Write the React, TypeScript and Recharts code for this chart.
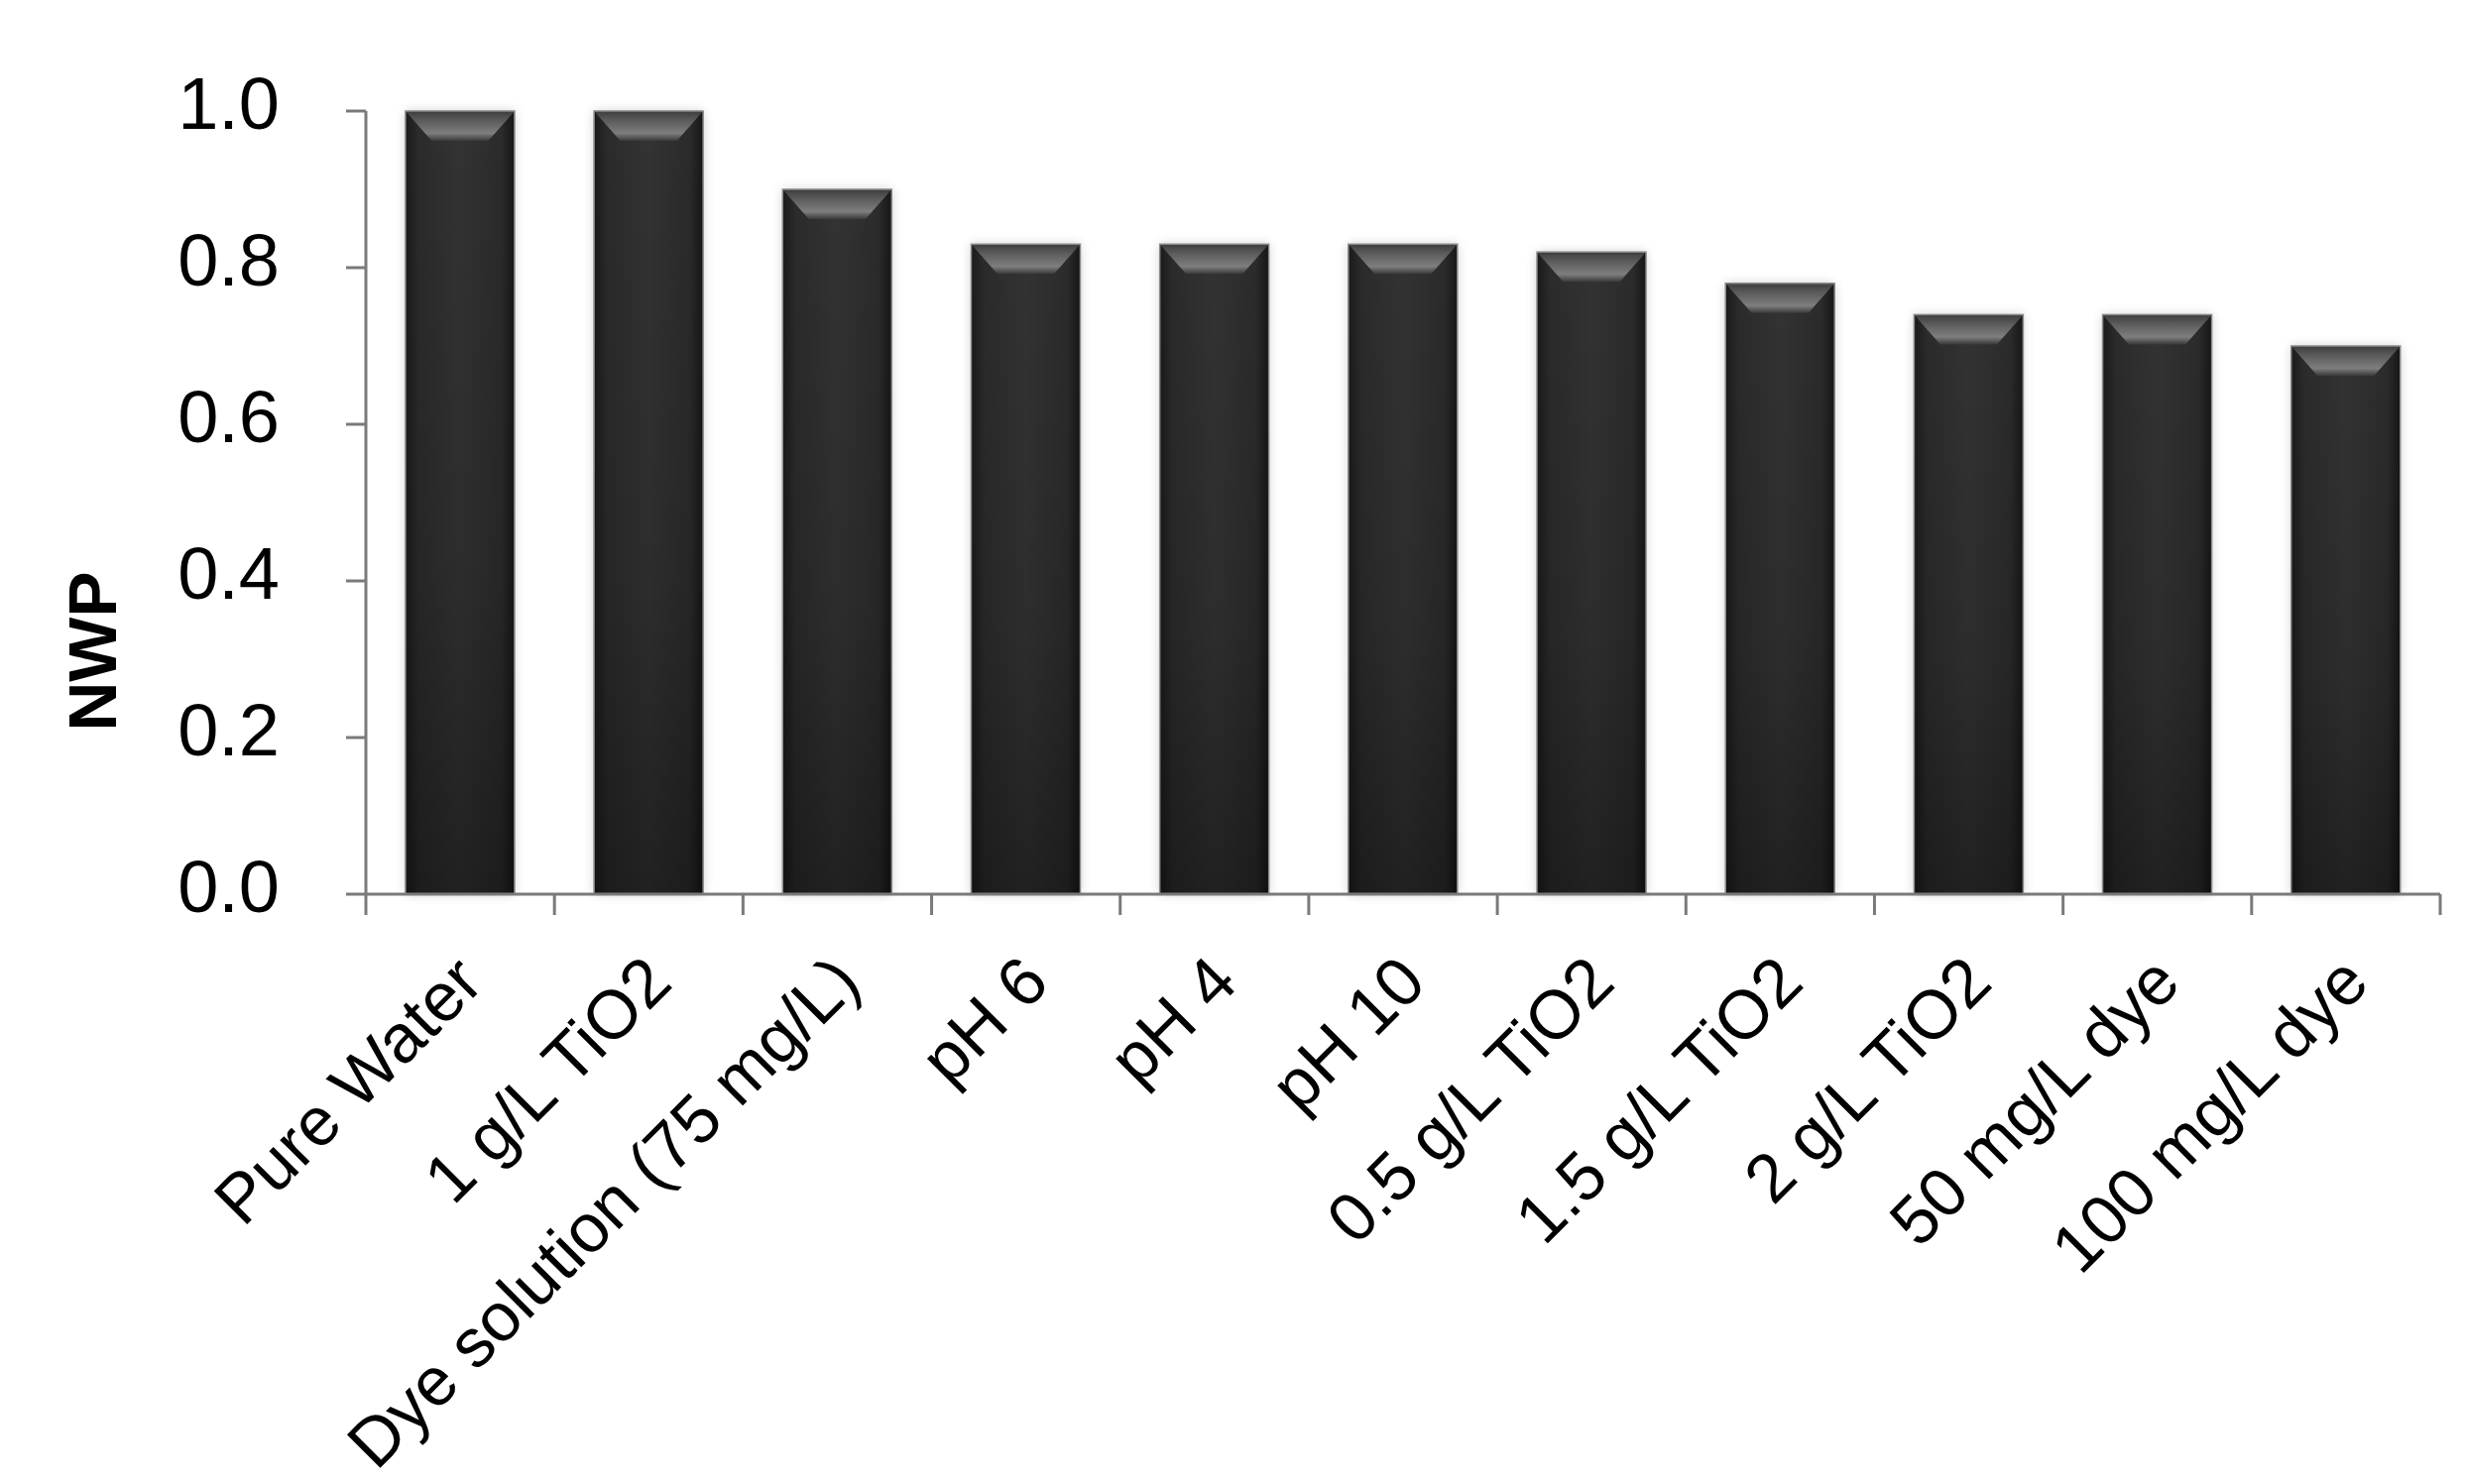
import { BarChart, Bar, XAxis, YAxis } from 'recharts';

const categories = [
  'Pure Water',
  '1 g/L TiO2',
  'Dye solution (75 mg/L)',
  'pH 6',
  'pH 4',
  'pH 10',
  '0.5 g/L TiO2',
  '1.5 g/L TiO2',
  '2 g/L TiO2',
  '50 mg/L dye',
  '100 mg/L dye',
];
const nwpValues = [1.0, 1.0, 0.9, 0.83, 0.83, 0.83, 0.82, 0.78, 0.74, 0.74, 0.7];
const yTicks = [0, 0.2, 0.4, 0.6, 0.8, 1.0];

const data = categories.map((name, i) => ({ name, nwp: nwpValues[i] }));

const FONT = '"Liberation Sans", Arial, sans-serif';
const AXIS_COLOR = '#7a7a7a';

const BevelBar = (props: any) => {
  const { x, y, width, height } = props;
  if (!height || height <= 0) return null;
  const bevel = Math.min(30, height);
  const inset = width * 0.24;
  return (
    <g>
      <rect x={x} y={y} width={width} height={height} fill="#000" opacity={0.18} filter="url(#barShadow)" />
      <rect x={x} y={y} width={width} height={height} fill="url(#barBody)" />
      <rect x={x} y={y} width={width} height={height} fill="url(#barShade)" />
      <polygon
        points={`${x},${y} ${x + width},${y} ${x + width - inset},${y + bevel} ${x + inset},${y + bevel}`}
        fill="url(#barTop)"
      />
      <rect x={x} y={y} width={width} height={height} fill="none" stroke="#8a8a8a" strokeWidth={1.5} />
    </g>
  );
};

const bandTicks = (props: any) => {
  const { x, y, payload, index } = props;
  const band = 2092 / categories.length;
  const left = x - band / 2;
  const tx = x + 26;
  const ty = y + 84;
  return (
    <g>
      <line x1={left} y1={y - 8} x2={left} y2={y + 13} stroke={AXIS_COLOR} strokeWidth={3} />
      {index === categories.length - 1 && (
        <line x1={x + band / 2} y1={y - 8} x2={x + band / 2} y2={y + 13} stroke={AXIS_COLOR} strokeWidth={3} />
      )}
      <text
        x={tx}
        y={ty}
        transform={`rotate(-45, ${tx}, ${ty})`}
        textAnchor="end"
        fontFamily={FONT}
        fontSize={69}
        fill="#000"
      >
        {payload.value}
      </text>
    </g>
  );
};

const valueTick = (props: any) => {
  const { x, y, payload } = props;
  return (
    <text x={x} y={y + 18} textAnchor="end" fontFamily={FONT} fontSize={74} fill="#000">
      {Number(payload.value).toFixed(1)}
    </text>
  );
};

const NwpLabel = () => {
  const bx = 117;
  const cy = 657;
  return (
    <text
      x={bx}
      y={cy}
      transform={`rotate(-90, ${bx}, ${cy})`}
      textAnchor="middle"
      fontFamily={FONT}
      fontWeight="bold"
      fontSize={69}
      fill="#000"
    >
      NWP
    </text>
  );
};

export default function App() {
  return (
    <div style={{ position: 'absolute', left: 0, top: 0, background: '#fff' }}>
      <BarChart
        width={2486}
        height={1497}
        data={data}
        margin={{ top: 112, right: 25, left: 0, bottom: 0 }}
        barCategoryGap="21%"
      >
        <defs>
          <linearGradient id="barBody" x1="0" y1="0" x2="1" y2="0">
            <stop offset="0%" stopColor="#1a1a1a" />
            <stop offset="12%" stopColor="#2b2b2b" />
            <stop offset="50%" stopColor="#333333" />
            <stop offset="88%" stopColor="#2b2b2b" />
            <stop offset="100%" stopColor="#161616" />
          </linearGradient>
          <linearGradient id="barShade" x1="0" y1="0" x2="0" y2="1">
            <stop offset="0%" stopColor="#000" stopOpacity={0} />
            <stop offset="60%" stopColor="#000" stopOpacity={0.12} />
            <stop offset="100%" stopColor="#000" stopOpacity={0.35} />
          </linearGradient>
          <linearGradient id="barTop" x1="0" y1="0" x2="0" y2="1">
            <stop offset="0%" stopColor="#3c3c3c" />
            <stop offset="30%" stopColor="#5a5a5a" />
            <stop offset="75%" stopColor="#7e7e7e" />
            <stop offset="100%" stopColor="#3a3a3a" />
          </linearGradient>
          <filter id="barShadow" x="-20%" y="-20%" width="140%" height="140%">
            <feGaussianBlur stdDeviation="6" />
          </filter>
        </defs>
        <XAxis
          dataKey="name"
          interval={0}
          tickLine={false}
          axisLine={{ stroke: AXIS_COLOR, strokeWidth: 3 }}
          tick={bandTicks}
          height={595}
        />
        <YAxis
          domain={[0, 1]}
          ticks={yTicks}
          interval={0}
          width={369}
          tickSize={20}
          tickMargin={67}
          tickLine={{ stroke: AXIS_COLOR, strokeWidth: 3 }}
          axisLine={{ stroke: AXIS_COLOR, strokeWidth: 3 }}
          tick={valueTick}
          label={<NwpLabel />}
        />
        <Bar dataKey="nwp" shape={<BevelBar />} isAnimationActive={false} />
      </BarChart>
    </div>
  );
}
